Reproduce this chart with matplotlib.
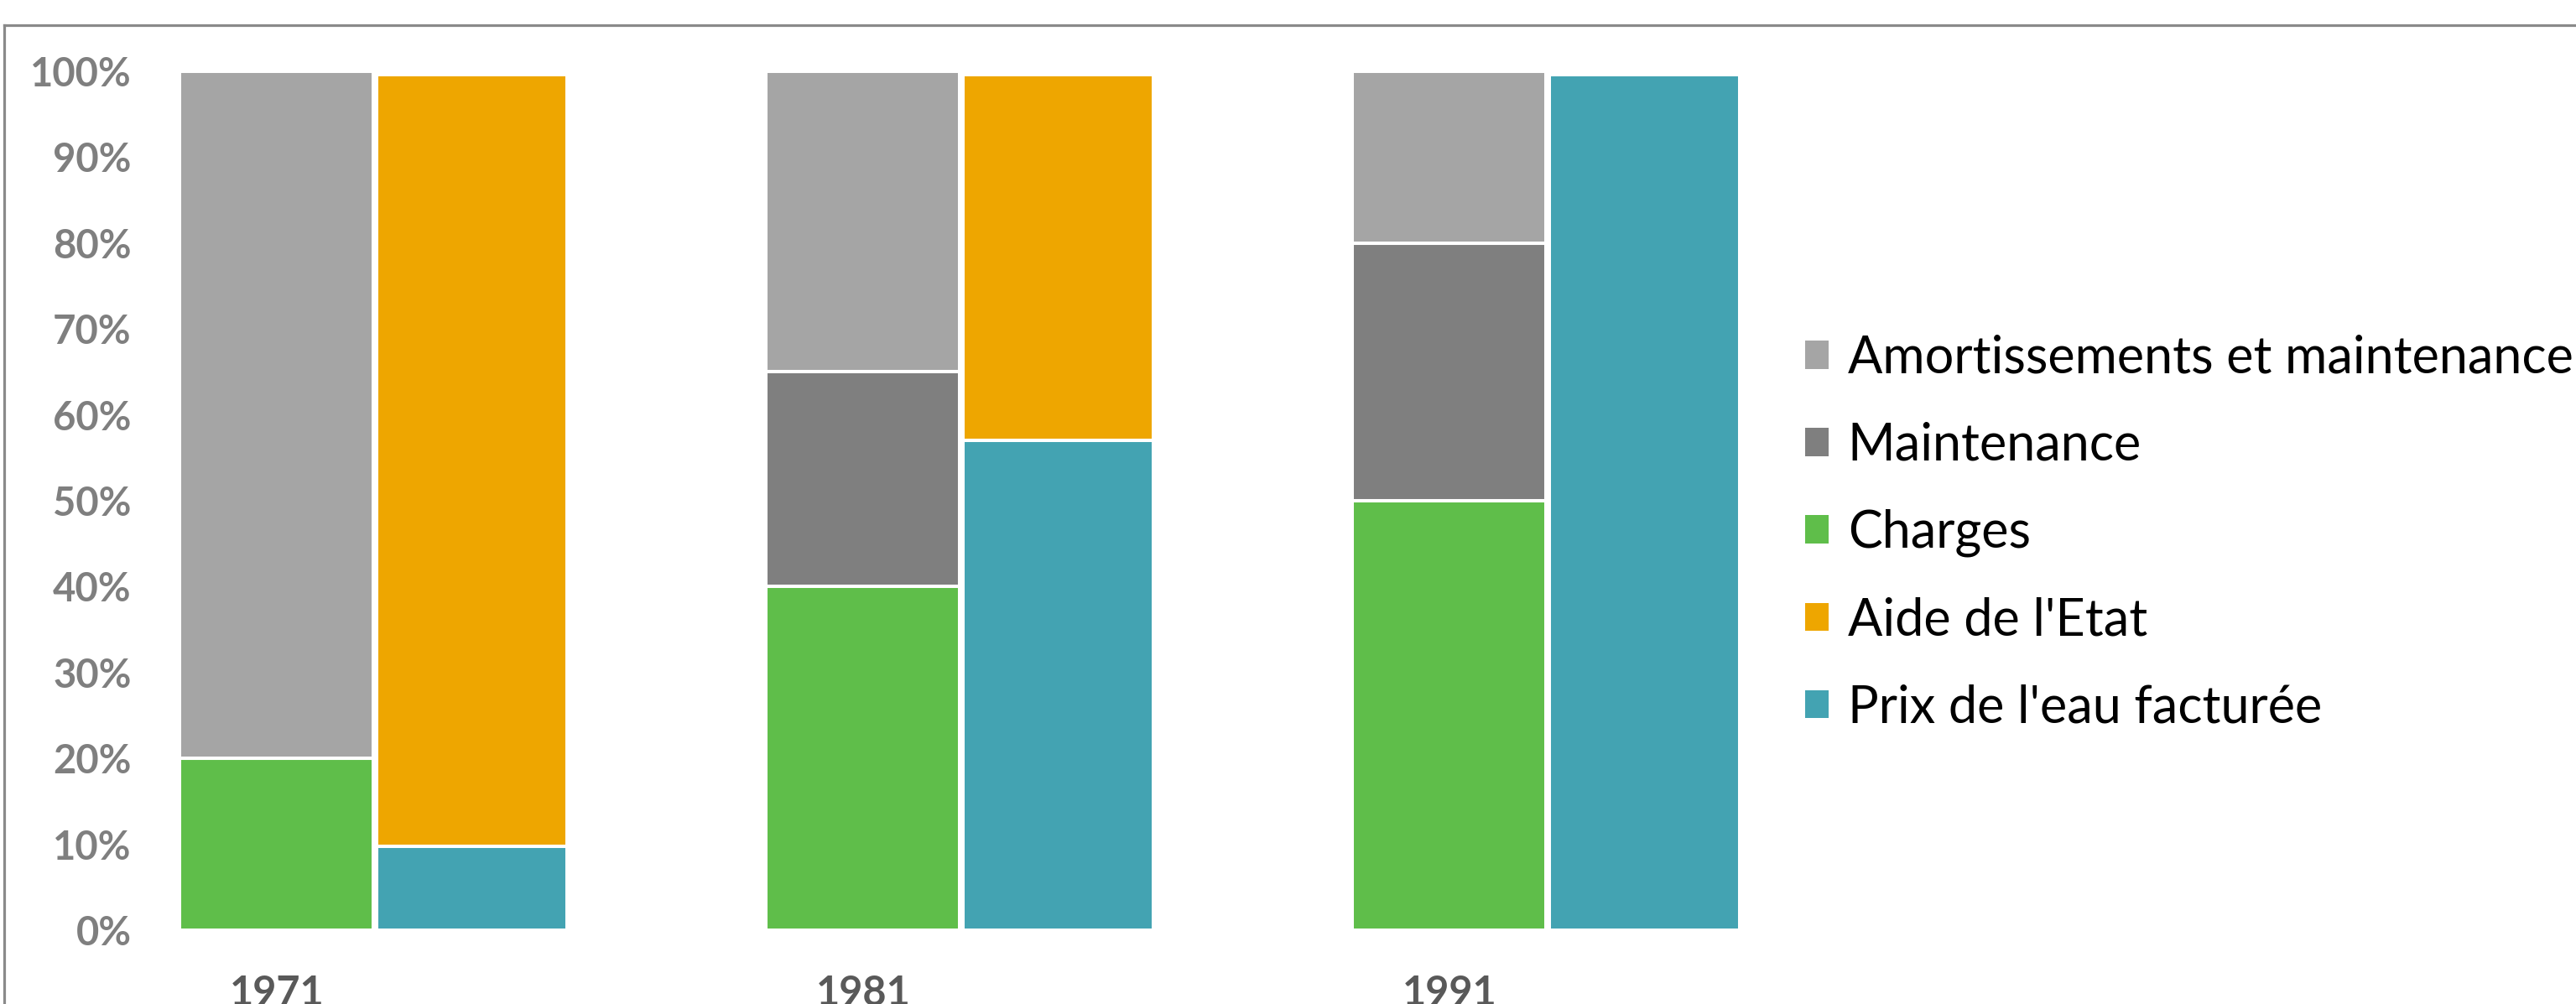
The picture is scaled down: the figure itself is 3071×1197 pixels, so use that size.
import matplotlib
matplotlib.use("Agg")
import matplotlib.pyplot as plt
from matplotlib.lines import Line2D
from matplotlib.patches import Patch
import numpy as np

plt.rcParams['font.family'] = ['Lato', 'DejaVu Sans']

years = ["1971", "1981", "1991"]
# left stack (costs)
charges = [20, 40, 50]
maintenance = [0, 25, 30]
amortissements = [80, 35, 20]
# right stack (revenues)
prix_eau = [9.8, 57, 99.6]
aide_etat = [89.8, 42.6, 0]

labels = ["Amortissements et maintenance", "Maintenance", "Charges",
          "Aide de l'Etat", "Prix de l'eau facturée"]
colors = {"amort": "#A5A5A5", "maint": "#7F7F7F", "charges": "#5FBE4A",
          "aide": "#EEA600", "prix": "#43A3B2"}

W, H = 3071, 1197
DPI = 100
fig = plt.figure(figsize=(W / DPI, H / DPI), dpi=DPI)

ax_left_px, ax_right_px = 170, 2100
ax_top_px, ax_bot_px = 85, 1109
ax = fig.add_axes([ax_left_px / W, (H - ax_bot_px) / H,
                   (ax_right_px - ax_left_px) / W, (ax_bot_px - ax_top_px) / H])

px_per_unit = 699.0
left_center_px = 329.75
ax.set_xlim((ax_left_px - left_center_px) / px_per_unit,
            (ax_right_px - left_center_px) / px_per_unit)
ax.set_ylim(0, 100)

x = np.arange(len(years))
off = 0.3327
wl, wr = 0.3298, 0.3253
lw = 2.9
kw = dict(edgecolor="white", linewidth=lw, clip_on=False)

charges_a = np.array(charges, float)
maint_a = np.array(maintenance, float)
amort_a = np.array(amortissements, float)
prix_a = np.array(prix_eau, float)
aide_a = np.array(aide_etat, float)

b_ch = ax.bar(x, charges_a, wl, color=colors["charges"], **kw)
b_mt = ax.bar(x, maint_a, wl, bottom=charges_a, color=colors["maint"], **kw)
b_am = ax.bar(x, amort_a, wl, bottom=charges_a + maint_a, color=colors["amort"], **kw)
b_px = ax.bar(x + off, prix_a, wr, color=colors["prix"], **kw)
b_ai = ax.bar(x + off, aide_a, wr, bottom=prix_a, color=colors["aide"], **kw)

for s in ax.spines.values():
    s.set_visible(False)

ax.set_yticks(np.arange(0, 101, 10))
ax.set_yticklabels([f"{v}%" for v in range(0, 101, 10)])
ax.tick_params(axis='y', length=0, pad=9.5, labelsize=34, labelcolor="#7F7F7F")
for t in ax.get_yticklabels():
    t.set_fontweight("bold")

ax.set_xticks(x)
ax.set_xticklabels(years)
ax.tick_params(axis='x', length=0, pad=38, labelsize=35, labelcolor="#595959")
for t in ax.get_xticklabels():
    t.set_fontweight("bold")

handles = [b_am[0], b_mt[1], b_ch[0], b_ai[0], b_px[0]]
hs = [Patch(facecolor=h.get_facecolor(), edgecolor='none') for h in handles]
fig.legend(hs, labels, loc="center left", bbox_to_anchor=(2152 / W, (H - 635.5) / H),
           frameon=False, fontsize=44, handlelength=0.46, handleheight=0.46,
           handletextpad=0.37, labelspacing=0.77, borderpad=0, borderaxespad=0)

# outer frame (top and left)
fig.add_artist(Line2D([4.5 / W, 1.0], [(H - 29.5) / H, (H - 29.5) / H],
                      transform=fig.transFigure, color="#8A8A8A", linewidth=2.3))
fig.add_artist(Line2D([5 / W, 5 / W], [0, (H - 29.5) / H],
                      transform=fig.transFigure, color="#8A8A8A", linewidth=2.3))

fig.savefig("out.png", dpi=DPI)
